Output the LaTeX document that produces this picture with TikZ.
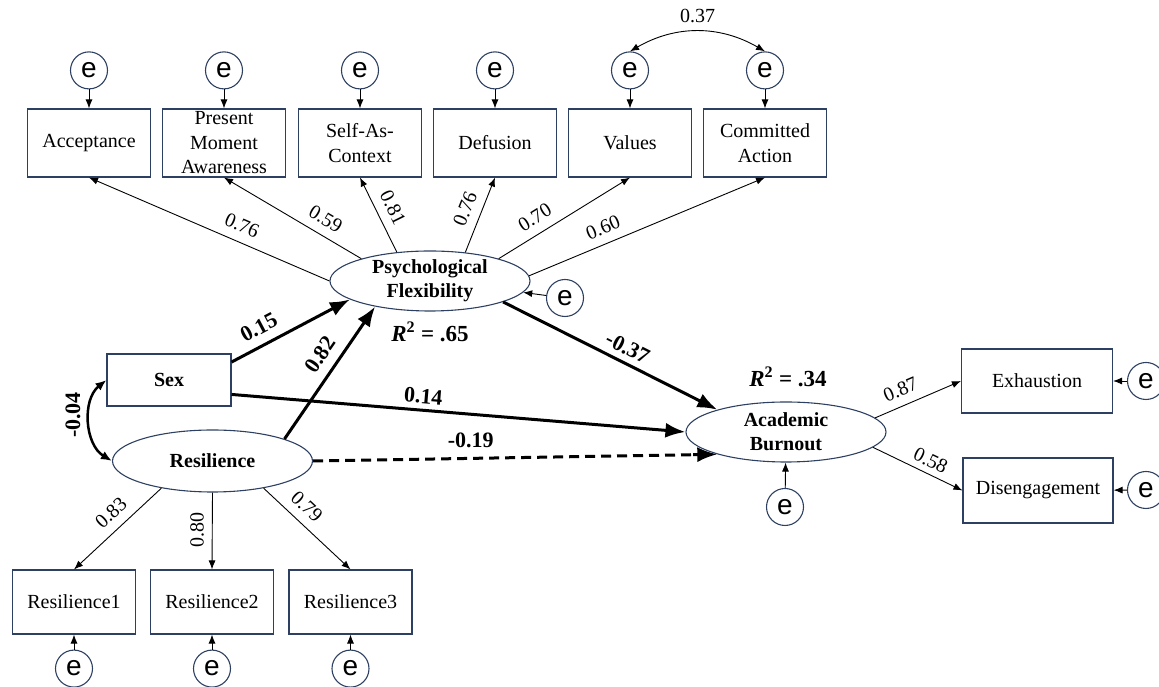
\documentclass[tikz,border=0pt]{standalone}
\usepackage{fontspec}
\setmainfont{Liberation Serif}
\newfontfamily\efont{Liberation Sans}
\usetikzlibrary{arrows.meta,shapes.geometric,positioning,calc}
\definecolor{semline}{RGB}{46,64,98}

\begin{document}
\begin{tikzpicture}[x=1pt, y=1pt,
    obs/.style={draw=semline, line width=1.1pt, rectangle, minimum width=123pt, minimum height=68pt,
      inner sep=0pt, align=center, font=\fontsize{20}{24.5}\selectfont},
    lat/.style={draw=semline, line width=1.1pt, ellipse, minimum width=200pt, minimum height=60pt,
      inner sep=0pt, align=center, font=\fontsize{20}{24}\selectfont\bfseries},
    err/.style={draw=semline, line width=1.1pt, circle, minimum size=37pt, inner sep=0pt,
      font=\efont\fontsize{28}{28}\selectfont},
    loadarrow/.style={-{Latex[length=9pt,width=7pt]}, line width=0.9pt},
    struct/.style={-{Latex[length=20pt,width=15pt]}, line width=3pt},
    numlab/.style={font=\fontsize{20}{20}\selectfont, inner sep=3pt},
    coef/.style={numlab, sloped, above=6pt},
    bcoef/.style={font=\fontsize{22}{22}\selectfont\bfseries, inner sep=3pt, sloped, above=6pt},
    rsq/.style={font=\fontsize{23}{23}\selectfont\bfseries}]
  \useasboundingbox (0,0) rectangle (1159,687);

  % Indicateurs de la flexibilite psychologique
  \node[obs] (acc) at (89,544) {Acceptance};
  \node[obs] (pma) at (224,544) {Present\\Moment\\Awareness};
  \node[obs] (sac) at (360,544) {Self-As-\\Context};
  \node[obs] (def) at (495,544) {Defusion};
  \node[obs] (val) at (630,544) {Values};
  \node[obs] (com) at (765,544) {Committed\\Action};

  % Erreurs des indicateurs
  \foreach \n in {acc,pma,sac,def,val,com}{
    \node[err, above=19pt of \n] (e\n) {e};
    \draw[loadarrow] (e\n) -- (\n);
  }
  \draw[{Latex[length=9pt,width=7pt]}-{Latex[length=9pt,width=7pt]}, line width=0.9pt]
    (eval.north) to[bend left=30] node[numlab, above=5pt] {0.37} (ecom.north);

  % Variables latentes
  \node[lat] (pf) at (430,406) {Psychological\\Flexibility};
  \node[lat, minimum height=62pt] (res) at (212.5,226) {Resilience};
  \node[lat] (ab) at (786,255) {Academic\\Burnout};
  \node[obs, minimum width=124pt, minimum height=52pt, font=\fontsize{20}{24}\selectfont\bfseries] (sex) at (169,307) {Sex};

  \node[err] (epf) at (565,389) {e};
  \draw[loadarrow] (epf) -- (pf.-7);
  \node[err] (eab) at (785,180) {e};
  \draw[loadarrow] (eab) -- (ab);

  \node[rsq] (rpf) at (430,355) {{\itshape R}\textsuperscript{2} = .65};
  \node[rsq] (rab) at (788,310) {{\itshape R}\textsuperscript{2} = .34};

  % Saturations
  \draw[loadarrow] (pf.180) -- node[coef, pos=.39] {0.76} (acc.south);
  \draw[loadarrow] (pf.162) -- node[coef, pos=.32] {0.59} (pma.south);
  \draw[loadarrow] (pf.139) -- node[coef, pos=.5] {0.81} (sac.south);
  \draw[loadarrow] (pf.39) -- node[coef, pos=.5] {0.76} (def.south);
  \draw[loadarrow] (pf.18) -- node[coef, pos=.34] {0.70} (val.south);
  \draw[loadarrow] (pf.3) -- node[coef, pos=.34] {0.60} (com.south);

  % Indicateurs du burnout
  \node[obs, minimum width=151pt, minimum height=64pt] (exh) at (1037,306) {Exhaustion};
  \node[obs, minimum width=150pt, minimum height=65pt] (dis) at (1038,196.5) {Disengagement};
  \draw[loadarrow] (ab.9) -- node[coef, pos=.37] {0.87} (exh.west);
  \draw[loadarrow] (ab.-10) -- node[coef, pos=.58, above=3pt] {0.58} (dis.west);
  \node[err] (eexh) at (1146,306) {e};
  \draw[loadarrow] (eexh) -- (exh);
  \node[err] (edis) at (1146,197) {e};
  \draw[loadarrow] (edis) -- (dis);

  % Indicateurs de la resilience
  \node[obs, minimum height=64pt] (rs1) at (74,85) {Resilience1};
  \node[obs, minimum height=64pt] (rs2) at (212,85) {Resilience2};
  \node[obs, minimum height=64pt] (rs3) at (350.5,85) {Resilience3};
  \foreach \n in {rs1,rs2,rs3}{
    \node[err, below=15pt of \n] (e\n) {e};
    \draw[loadarrow] (e\n) -- (\n);
  }
  \draw[loadarrow] (res.208) -- node[coef, pos=.45] {0.83} (rs1.north);
  \draw[loadarrow] (res.south) -- (rs2.north);
  \node[numlab, rotate=90] (l080) at (197,157) {0.80};
  \draw[loadarrow] (res.-28) -- node[coef, pos=.37] {0.79} (rs3.north);

  % Effets structurels
  \draw[struct] (sex.16) -- node[bcoef, pos=.30] {0.15} (pf.193);
  \draw[struct] (res.17) -- node[bcoef, pos=.56] {0.82} (pf.205);
  \draw[struct] (sex.-13) -- node[bcoef, pos=.42, above=2pt] {0.14} (ab.west);
  \draw[line width=3pt, dash pattern=on 10pt off 6pt, shorten >=18pt] (res.east) -- node[bcoef, pos=.39, sloped=false] {-0.19} (ab.198);
  \draw[struct] ($(res.east)!0.94!(ab.198)$) -- (ab.198);
  \draw[struct] (pf.-16) -- node[bcoef, pos=.55, above=3pt] {-0.37} (ab.162);

  % Covariance
  \draw[{Latex[length=11pt,width=9pt]}-{Latex[length=11pt,width=9pt]}, line width=2.5pt]
    (sex.west) to[bend right=55] (res.west);
  \node[font=\fontsize{22}{22}\selectfont\bfseries, rotate=90] (lcov) at (73,272) {-0.04};

\end{tikzpicture}
\end{document}
